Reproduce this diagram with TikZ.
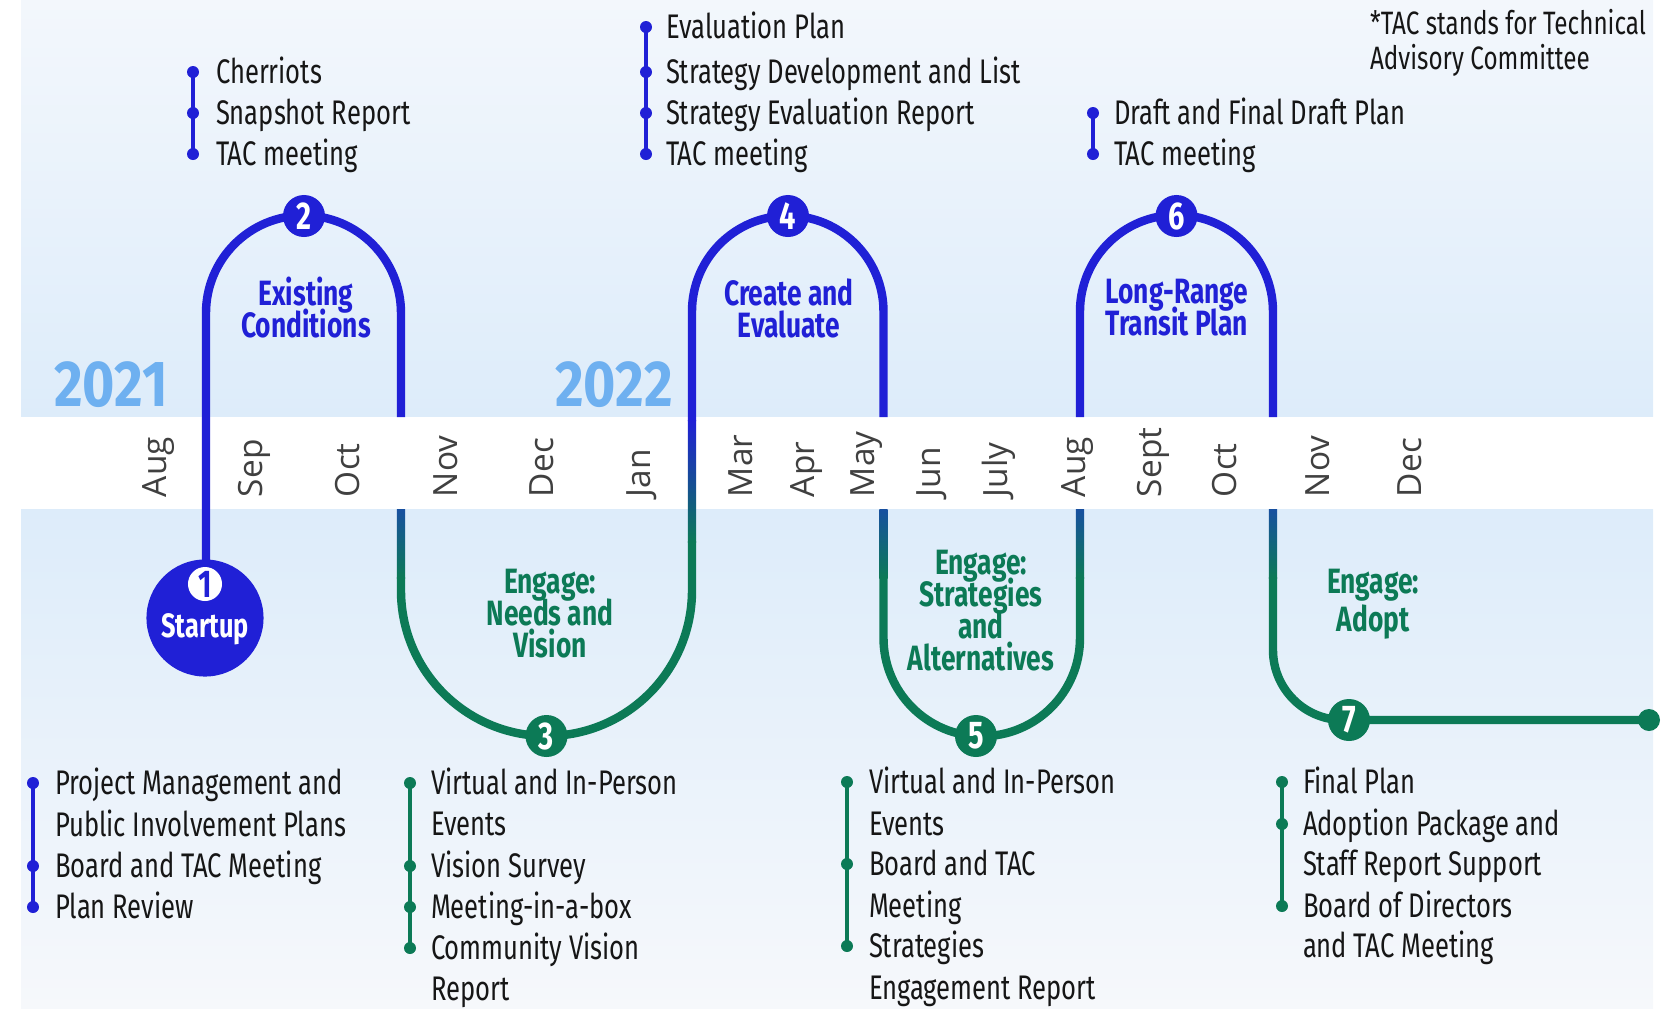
\documentclass[tikz,border=0pt]{standalone}
\usepackage{fontspec}
\setmainfont{Fira Sans}[FakeStretch=0.75]
\newfontfamily\monthfont{Open Sans}
\newfontfamily\yearfont{Fira Sans}[FakeStretch=0.85]
\usetikzlibrary{calc}
\definecolor{stageblue}{RGB}{32,32,214}
\definecolor{stagegreen}{RGB}{12,122,86}
\definecolor{midteal}{RGB}{24,80,160}
\definecolor{yearblue}{RGB}{110,176,240}
\definecolor{bgtop}{RGB}{243,247,252}
\definecolor{bgband}{RGB}{221,236,250}
\definecolor{bgbot}{RGB}{246,248,251}
\definecolor{ink}{RGB}{22,22,22}
\def\tightlines{\lineskiplimit=-20pt\relax}
\def\itemdot[#1](#2){\fill[#1] (#2) circle (6);}
\def\fadeline(#1)(#2)(#3){\shade[top color=#3, bottom color=stagegreen] ($(#1)+(-4.2,0)$) rectangle ($(#2)+(4.2,0)$);}
\tikzset{
  every node/.style={inner sep=0pt, outer sep=0pt},
  listtext/.style={anchor=mid west, yshift=-0.7pt, text=ink, font=\fontsize{9.7}{11.7}\selectfont},
  monthlab/.style={rotate=90, anchor=mid west, text=black!75, font=\monthfont\fontsize{9.5}{9.5}\selectfont},
  stagetitle/.style={align=center, font=\fontsize{10}{9.1}\selectfont\bfseries\tightlines},
  stagedot/.style={circle, minimum size=4.2mm, text=white, font=\fontsize{11}{11}\selectfont\bfseries},
  yearlab/.style={text=yearblue, font=\yearfont\fontsize{18.5}{18.5}\selectfont\bfseries},
  track/.style={line width=2.4pt}
}

\begin{document}
\begin{tikzpicture}[x=0.01cm, y=-0.01cm]
		%%%%% START %%%%%
		\useasboundingbox (0, 0) rectangle (1665, 1008);
		
		\shade[top color=bgtop, bottom color=bgband] (21, 0) rectangle (1653, 417);
		\shade[top color=bgband, bottom color=bgbot] (21, 509) rectangle (1653, 1008);
		\fill[white] (0, 417) rectangle (1665, 509);
		
		\node[yearlab] (y2021) at (111, 385) {2021};
		\node[yearlab] (y2022) at (614, 385) {2022};
		
		\node[monthlab] (mAugA) at (157, 497) {Aug};
		\node[monthlab] (mSepA) at (253, 497) {Sep};
		\node[monthlab] (mOctA) at (350, 497) {Oct};
		\node[monthlab] (mNovA) at (448, 497) {Nov};
		\node[monthlab] (mDecA) at (544, 497) {Dec};
		\node[monthlab] (mJanB) at (641, 497) {Jan};
		\node[monthlab] (mMarB) at (743, 497) {Mar};
		\node[monthlab] (mAprB) at (805, 497) {Apr};
		\node[monthlab] (mMayB) at (865, 497) {May};
		\node[monthlab] (mJunB) at (931, 497) {Jun};
		\node[monthlab] (mJulB) at (998, 497) {July};
		\node[monthlab] (mAugB) at (1076, 497) {Aug};
		\node[monthlab] (mSepB) at (1152, 497) {Sept};
		\node[monthlab] (mOctB) at (1227, 497) {Oct};
		\node[monthlab] (mNovB) at (1320, 497) {Nov};
		\node[monthlab] (mDecB) at (1412, 497) {Dec};
		
		% track
		\draw[track, color=stageblue] (206, 618) -- (206, 313) arc[start angle=180, end angle=360, radius=97.5] -- (401, 417);
		\fadeline(401, 509)(401, 578)(midteal)
		\draw[track, color=stagegreen] (401, 577) -- (401, 590.5) arc[start angle=180, end angle=0, radius=145.5] -- (692, 541);
		\fadeline(692, 420)(692, 542)(stageblue)
		\draw[track, color=stageblue] (692, 421) -- (692, 311.5) arc[start angle=180, end angle=360, radius=95.75] -- (883.5, 417);
		\fadeline(883.5, 509)(883.5, 578)(midteal)
		\draw[track, color=stagegreen] (883.5, 577) -- (883.5, 638) arc[start angle=180, end angle=0, radius=98.25] -- (1080, 577);
		\fadeline(1080, 509)(1080, 578)(midteal)
		\draw[track, color=stageblue] (1080, 417) -- (1080, 311.5) arc[start angle=180, end angle=360, radius=96.5] -- (1273, 417);
		\fadeline(1273, 509)(1273, 578)(midteal)
		\draw[track, color=stagegreen] (1273, 577) -- (1273, 650) arc[start angle=180, end angle=90, radius=70] -- (1649, 720);
		\fill[stagegreen] (1649, 720) circle (11);
		
		% stages
		\node[circle, fill=stageblue, minimum size=11.7mm] (n1) at (205, 618) {};
		\node[circle, fill=white, minimum size=3.4mm, text=stageblue, font=\fontsize{11}{11}\selectfont\bfseries] (n1num) at (205, 584) {1};
		\node[text=white, font=\fontsize{9.6}{9.6}\selectfont\bfseries] (n1lab) at (205, 629) {Startup};
		\node[stagedot, fill=stageblue] (n2) at (304, 216) {2};
		\node[stagedot, fill=stagegreen] (n3) at (546.5, 736) {3};
		\node[stagedot, fill=stageblue] (n4) at (788, 216) {4};
		\node[stagedot, fill=stagegreen] (n5) at (976, 736) {5};
		\node[stagedot, fill=stageblue] (n6) at (1176.5, 216) {6};
		\node[stagedot, fill=stagegreen] (n7) at (1349, 720) {7};
		
		\node[stagetitle, text=stageblue] (t2) at (306, 308) {Existing\\Conditions};
		\node[stagetitle, text=stageblue] (t4) at (789, 308) {Create and\\Evaluate};
		\node[stagetitle, text=stageblue] (t6) at (1177, 308) {Long-Range\\Transit Plan};
		\node[stagetitle, text=stagegreen] (t3) at (550, 614) {Engage:\\Needs and\\Vision};
		\node[stagetitle, text=stagegreen] (t5) at (981, 611) {Engage:\\Strategies\\and\\Alternatives};
		\node[stagetitle, text=stagegreen] (t7) at (1373, 604) {Engage:\\[1.6pt]Adopt};
		
		% tasks above
		\draw[line width=0.9pt, color=stageblue] (193, 72) -- (193, 154);
		\itemdot[stageblue](193, 72)
		\itemdot[stageblue](193, 113)
		\itemdot[stageblue](193, 154)
		\node[listtext] (a1) at (216, 72) {Cherriots};
		\node[listtext] (a2) at (216, 113) {Snapshot Report};
		\node[listtext] (a3) at (216, 154) {TAC meeting};
		
		\draw[line width=0.9pt, color=stageblue] (646, 27) -- (646, 154);
		\itemdot[stageblue](646, 27)
		\itemdot[stageblue](646, 72)
		\itemdot[stageblue](646, 113)
		\itemdot[stageblue](646, 154)
		\node[listtext] (b1) at (666, 27) {Evaluation Plan};
		\node[listtext] (b2) at (666, 72) {Strategy Development and List};
		\node[listtext] (b3) at (666, 113) {Strategy Evaluation Report};
		\node[listtext] (b4) at (666, 154) {TAC meeting};
		
		\draw[line width=0.9pt, color=stageblue] (1093, 113) -- (1093, 154);
		\itemdot[stageblue](1093, 113)
		\itemdot[stageblue](1093, 154)
		\node[listtext] (c1) at (1114, 113) {Draft and Final Draft Plan};
		\node[listtext] (c2) at (1114, 154) {TAC meeting};
		
		\node[listtext, font=\fontsize{9.2}{11}\selectfont] (note1) at (1370, 23) {*TAC stands for Technical};
		\node[listtext, font=\fontsize{9.2}{11}\selectfont] (note2) at (1370, 58) {Advisory Committee};
		
		% tasks below
		\draw[line width=0.9pt, color=stageblue] (33, 783) -- (33, 907);
		\itemdot[stageblue](33, 783)
		\itemdot[stageblue](33, 866)
		\itemdot[stageblue](33, 907)
		\node[listtext] (d1) at (55, 783) {Project Management and};
		\node[listtext] (d2) at (55, 825) {Public Involvement Plans};
		\node[listtext] (d3) at (55, 866) {Board and TAC Meeting};
		\node[listtext] (d4) at (55, 907) {Plan Review};
		
		\draw[line width=0.9pt, color=stagegreen] (410, 783) -- (410, 948);
		\itemdot[stagegreen](410, 783)
		\itemdot[stagegreen](410, 866)
		\itemdot[stagegreen](410, 907)
		\itemdot[stagegreen](410, 948)
		\node[listtext] (e1) at (431, 783) {Virtual and In-Person};
		\node[listtext] (e2) at (431, 824) {Events};
		\node[listtext] (e3) at (431, 866) {Vision Survey};
		\node[listtext] (e4) at (431, 907) {Meeting-in-a-box};
		\node[listtext] (e5) at (431, 948) {Community Vision};
		\node[listtext] (e6) at (431, 989) {Report};
		
		\draw[line width=0.9pt, color=stagegreen] (847, 782) -- (847, 946);
		\itemdot[stagegreen](847, 782)
		\itemdot[stagegreen](847, 864)
		\itemdot[stagegreen](847, 946)
		\node[listtext] (f1) at (869, 782) {Virtual and In-Person};
		\node[listtext] (f2) at (869, 824) {Events};
		\node[listtext] (f3) at (869, 864) {Board and TAC};
		\node[listtext] (f4) at (869, 906) {Meeting};
		\node[listtext] (f5) at (869, 946) {Strategies};
		\node[listtext] (f6) at (869, 988) {Engagement Report};
		
		\draw[line width=0.9pt, color=stagegreen] (1282, 782) -- (1282, 906);
		\itemdot[stagegreen](1282, 782)
		\itemdot[stagegreen](1282, 824)
		\itemdot[stagegreen](1282, 906)
		\node[listtext] (g1) at (1303, 782) {Final Plan};
		\node[listtext] (g2) at (1303, 824) {Adoption Package and};
		\node[listtext] (g3) at (1303, 864) {Staff Report Support};
		\node[listtext] (g4) at (1303, 906) {Board of Directors};
		\node[listtext] (g5) at (1303, 946) {and TAC Meeting};
		
		%%%%% END %%%%%
	\end{tikzpicture}
\end{document}
